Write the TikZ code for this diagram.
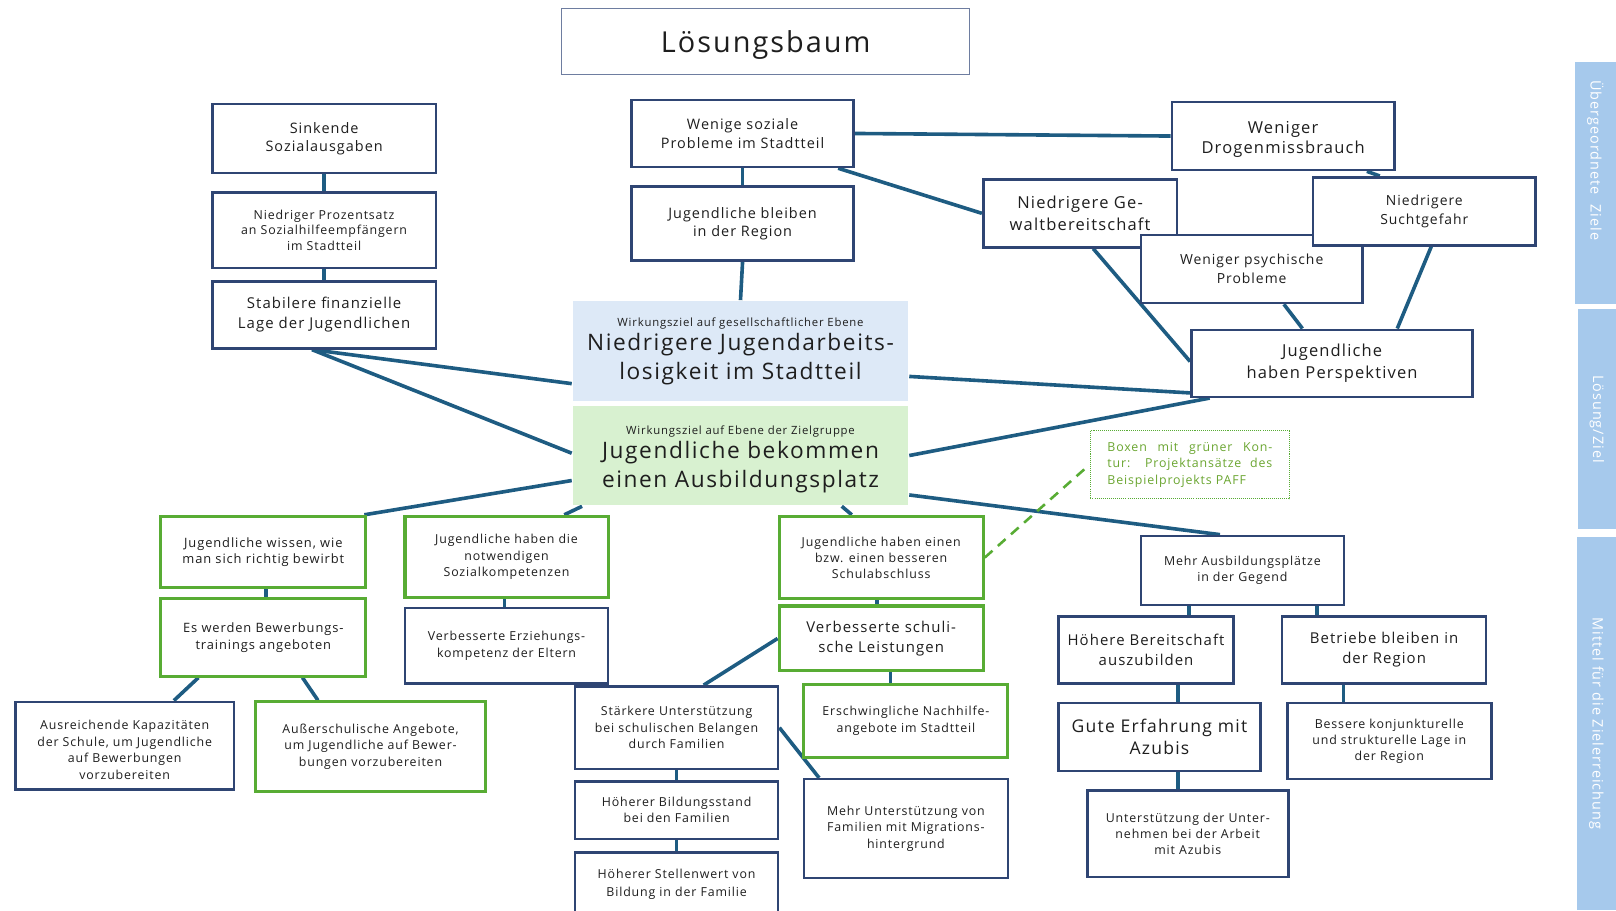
\documentclass[tikz,border=0pt]{standalone}
\usepackage{fontspec}
\setmainfont{Open Sans}[LetterSpace=7.0]
\usetikzlibrary{calc,backgrounds}
\definecolor{navy}{RGB}{47,69,115}
\definecolor{grn}{RGB}{88,172,52}
\definecolor{lnk}{RGB}{30,92,130}
\definecolor{txt}{RGB}{30,30,30}
\definecolor{bluefill}{RGB}{221,233,247}
\definecolor{greenfill}{RGB}{216,241,208}
\definecolor{barfill}{RGB}{166,201,236}
\definecolor{legtxt}{RGB}{106,165,48}
\definecolor{titleline}{RGB}{110,125,160}
\newcommand\smallfs{\fontsize{11}{14}\selectfont}
\newcommand\bigfs{\fontsize{22}{28}\selectfont}
\tikzset{
  base/.style={rectangle, align=center, inner sep=0pt, text=txt, line width=2.5pt},
  nbox/.style={base, draw=navy, fill=white},
  gbox/.style={base, draw=grn, fill=white, line width=3pt},
  fsz/.style 2 args={font=\fontsize{#1}{#2}\selectfont},
  wh/.style 2 args={minimum width=#1pt, minimum height=#2pt},
  conn/.style={draw=lnk, line width=3.5pt},
  sidebar/.style={rectangle, fill=barfill, text=white, inner sep=0pt, rotate=-90, font=\fontsize{14}{18}\selectfont},
}
\begin{document}
\begin{tikzpicture}[x=1pt,y=-1pt]
\useasboundingbox (0,0) rectangle (1568,883);

% title
\node[base, draw=titleline, line width=1.3pt, wh={396}{64}, fsz={28}{34}] (title) at (743,40) {\raisebox{-4pt}[\height][\depth]{Lösungsbaum}};

% upper left chain
\node[nbox, wh={217}{67}, fsz={14}{18}] (b1) at (314.5,134.5) {Sinkende\\Sozialausgaben};
\node[nbox, wh={217}{73}, fsz={12}{15.5}] (b2) at (314.5,223.5) {Niedriger Prozentsatz\\an Sozialhilfeempfängern\\im Stadtteil};
\node[nbox, wh={217}{65}, fsz={14.5}{19}] (b3) at (314.5,305.5) {Stabilere finanzielle\\Lage der Jugendlichen};

% upper middle chain
\node[nbox, wh={215}{65}, fsz={14}{18}] (b4) at (720.5,129.5) {Wenige soziale\\Probleme im Stadtteil};
\node[nbox, wh={215}{72}, fsz={14}{18}] (b5) at (720.5,217) {Jugendliche bleiben\\in der Region};

% central goals
\node[base, fill=bluefill, wh={325}{97}, font=\bigfs] (blue) at (718.5,341) {{\smallfs Wirkungsziel auf gesellschaftlicher Ebene}\\[-5pt]Niedrigere Jugendarbeits-\\losigkeit im Stadtteil};
\node[base, fill=greenfill, wh={325}{96}, font=\bigfs] (green) at (718.5,442) {\mbox{}\\[-12pt]{\smallfs Wirkungsziel auf Ebene der Zielgruppe}\\[-5pt]Jugendliche bekommen\\einen Ausbildungsplatz};

% upper right cluster
\node[nbox, wh={216}{66}, fsz={16}{20}] (b6) at (1245,132) {\mbox{}\\[-2pt]Weniger\\Drogenmissbrauch};
\node[nbox, wh={188}{66}, fsz={16}{21}] (b7) at (1048,207) {Niedrigere Ge-\\waltbereitschaft};
\node[nbox, wh={215}{66}, fsz={13.5}{18}] (b9) at (1214.5,261) {Weniger psychische\\Probleme};
\node[nbox, wh={216}{66}, fsz={13.5}{18}] (b8) at (1382,205) {Niedrigere\\Suchtgefahr};
\node[nbox, wh={273}{65}, fsz={16}{21}] (b10) at (1292.5,352.5) {Jugendliche\\haben Perspektiven};

% lower left
\node[gbox, wh={199}{69}, fsz={12.5}{16}] (l1) at (255.5,535.5) {Jugendliche wissen, wie\\man sich richtig bewirbt};
\node[gbox, wh={199}{75}, fsz={12.5}{16}] (l2) at (255.5,618.5) {Es werden Bewerbungs-\\trainings angeboten};
\node[nbox, wh={212}{85}, fsz={12}{16}] (l3) at (121,723.5) {\mbox{}\\[1pt]Ausreichende Kapazitäten\\der Schule, um Jugendliche\\auf Bewerbungen\\vorzubereiten};
\node[gbox, wh={223}{87}, fsz={12}{16}] (l4) at (359.5,724.5) {Außerschulische Angebote,\\um Jugendliche auf Bewer-\\bungen vorzubereiten};

\node[gbox, wh={197}{79}, fsz={12}{16}] (m1) at (491.5,540.5) {Jugendliche haben die\\notwendigen\\Sozialkompetenzen};
\node[nbox, wh={197}{73}, fsz={12}{17}] (m2) at (491.5,626.5) {Verbesserte Erziehungs-\\kompetenz der Eltern};

% lower middle
\node[gbox, wh={198}{80}, fsz={12}{15.5}] (r1) at (855,541) {Jugendliche haben einen\\bzw. einen besseren\\Schulabschluss};
\node[gbox, wh={198}{63}, fsz={14.5}{19}] (r2) at (855,619.5) {Verbesserte schuli-\\sche Leistungen};
\node[gbox, wh={198}{71}, fsz={12}{16}] (r3) at (879,699.5) {Erschwingliche Nachhilfe-\\angebote im Stadtteil};
\node[nbox, wh={197}{80}, fsz={12}{16}] (s1) at (656.5,706) {Stärkere Unterstützung\\bei schulischen Belangen\\durch Familien};
\node[nbox, wh={197}{56}, fsz={12}{15}] (s2) at (656.5,786) {Höherer Bildungsstand\\bei den Familien};
\node[nbox, wh={197}{62}, fsz={12}{17}] (s3) at (656.5,858) {Höherer Stellenwert von\\Bildung in der Familie};
\node[nbox, wh={198}{96}, fsz={12}{16}] (s4) at (879,804) {Mehr Unterstützung von\\Familien mit Migrations-\\hintergrund};

% lower right
\node[nbox, wh={197}{67}, fsz={12}{16}] (t1) at (1205.5,553.5) {Mehr Ausbildungsplätze\\in der Gegend};
\node[nbox, wh={170}{65}, fsz={14.5}{19}] (t2) at (1112,630.5) {Höhere Bereitschaft\\auszubilden};
\node[nbox, wh={198}{65}, fsz={14.5}{19}] (t3) at (1343,630.5) {Betriebe bleiben in\\der Region};
\node[nbox, wh={196}{66}, fsz={17}{21}] (t4) at (1125,715) {Gute Erfahrung mit\\Azubis};
\node[nbox, wh={198}{74}, fsz={12}{15.5}] (t5) at (1348,719) {Bessere konjunkturelle\\und strukturelle Lage in\\der Region};
\node[nbox, wh={195}{84}, fsz={12}{15.5}] (t6) at (1152.5,809) {Unterstützung der Unter-\\nehmen bei der Arbeit\\mit Azubis};

% legend
\node[rectangle, draw=grn, densely dotted, line width=1pt, wh={193}{66}, inner sep=0pt] (legend) at (1154.5,451) {};
\node[text=legtxt, text width=160pt, align=justify, inner sep=0pt, fsz={12}{16}] (legtext) at (legend.center) {Boxen mit grüner Kon-\linebreak tur: Projektansätze des\linebreak Beispielprojekts PAFF};
\coordinate (legend-in) at ($(legend.west)+(-5,4)$);

% side bars
\node[sidebar, minimum width=235pt, minimum height=40pt] (sb1) at (1548,177.5) {Übergeordnete\ \ Ziele\hbox to 44pt{}};
\node[sidebar, minimum width=213pt, minimum height=37pt] (sb2) at (1549.5,406.5) {Lösung/Ziel};
\node[sidebar, minimum width=362pt, minimum height=38pt] (sb3) at (1549,702) {Mittel für die Zielerreichung};

\begin{scope}[on background layer]
% left chain
\draw[conn] (b1.south) -- (b2.north);
\draw[conn] (b2.south) -- (b3.north);
% middle chain
\draw[conn] (b4.south) -- (b5.north);
\draw[conn] (b5.south) -- (blue.north);
% upper right
\draw[conn] (b4.east) -- (b6.west);
\draw[conn] ($(b4.south east)+(-16,0)$) -- (b7.west);
\draw[conn] ($(b6.south east)+(-28,0)$) -- ($(b8.north west)+(66,0)$);
\draw[conn] ($(b7.south west)+(108,0)$) -- ($(b10.north west)+(0,32)$);
\draw[conn] ($(b9.south west)+(140,0)$) -- ($(b10.north west)+(109,0)$);
\draw[conn] ($(b8.south west)+(116,0)$) -- ($(b10.north west)+(201,0)$);
\draw[conn] ($(blue.north east)+(0,74)$) -- ($(b10.south west)+(0,-5)$);
\draw[conn] (green.east) -- ($(b10.south west)+(19,0)$);
% left to centre
\draw[conn] ($(b3.south west)+(98,0)$) -- ($(blue.north west)+(0,81)$);
\draw[conn] ($(b3.south west)+(98,0)$) -- ($(green.north west)+(0,47)$);
\draw[conn] ($(green.south west)+(0,-25)$) -- ($(l1.north east)+(-3,0)$);
\draw[conn] ($(green.south west)+(10,0)$) -- ($(m1.north east)+(-44,0)$);
\draw[conn] ($(green.south west)+(262,0)$) -- ($(r1.north west)+(72,0)$);
\draw[conn] ($(green.south east)+(0,-11)$) -- ($(t1.north west)+(78,0)$);
% lower left
\draw[conn] ($(l1.south)+(2.5,0)$) -- ($(l2.north)+(2.5,0)$);
\draw[conn] ($(l2.south west)+(38,0)$) -- ($(l3.north west)+(155,0)$);
\draw[conn] ($(l2.south west)+(139,0)$) -- ($(l4.north west)+(62,0)$);
\draw[conn] ($(m1.south)+(-2,0)$) -- ($(m2.north)+(-2,0)$);
% lower middle
\draw[conn] ($(r1.south)+(-4,0)$) -- ($(r2.north)+(-4,0)$);
\draw[conn] ($(r2.south)+(9,0)$) -- ($(r3.north)+(-15,0)$);
\draw[conn] (r2.west) -- ($(s1.north west)+(126,0)$);
\draw[conn] (s1.east) -- ($(s4.north west)+(16,0)$);
\draw[conn] (s1.south) -- (s2.north);
\draw[conn] (s2.south) -- (s3.north);
% lower right
\draw[conn] ($(t1.south west)+(48,0)$) -- ($(t2.north west)+(128,0)$);
\draw[conn] ($(t1.south west)+(172,0)$) -- ($(t3.north west)+(35,0)$);
\draw[conn] ($(t2.south west)+(117,0)$) -- ($(t4.north west)+(117,0)$);
\draw[conn] ($(t3.south west)+(61,0)$) -- ($(t5.north west)+(56,0)$);
\draw[conn] ($(t4.south west)+(117,0)$) -- ($(t6.north west)+(89,0)$);
% legend pointer
\draw[draw=grn, line width=2.5pt, dash pattern=on 10pt off 7pt] (r1.east) -- (legend-in);
\end{scope}
\end{tikzpicture}
\end{document}
